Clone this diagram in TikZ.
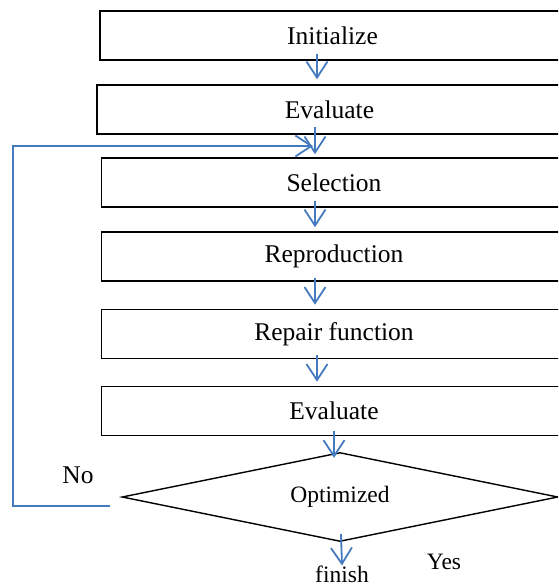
\documentclass[tikz,border=0pt]{standalone}
\usepackage{fontspec}
\setmainfont{Liberation Serif}
\usetikzlibrary{arrows.meta,shapes.geometric}
\definecolor{flowblue}{RGB}{70,122,190}
\begin{document}
\begin{tikzpicture}[x=1pt,y=-1pt,
  stepbox/.style={draw=black,line width=1.6pt,rectangle,minimum width=465pt,minimum height=49pt,inner sep=0pt,font=\fontsize{25.5}{30}\selectfont},
  decision/.style={draw=black,line width=1.4pt,diamond,aspect=4.9,minimum width=436pt,minimum height=89pt,inner sep=0pt,font=\fontsize{23.5}{28}\selectfont},
  lbl/.style={inner sep=0pt,font=\fontsize{23.5}{28}\selectfont},
  arr/.style={draw=flowblue,line width=1.8pt,-{Straight Barb[length=16pt,width=21pt,line width=1.8pt]}}]
\useasboundingbox (0,0) rectangle (558,584);
\clip (0,0) rectangle (558,584);
\node[stepbox] (b1) at (332.5,35.5) {Initialize};
\node[stepbox] (b2) at (329.5,109.5) {Evaluate};
\node[stepbox] (b3) at (334,182.5) {Selection};
\node[stepbox] (b4) at (334,256.5) {Reproduction};
\node[stepbox] (b5) at (334,334) {Repair function};
\node[stepbox] (b6) at (334,411) {Evaluate};
\node[decision] (opt) at (340,497) {Optimized};
\node[lbl] (fin) at (342,574) {finish};
\node[lbl,font=\fontsize{25.5}{30}\selectfont] (no) at (78,475) {No};
\node[lbl] (yes) at (444,562) {Yes};
\coordinate (fbtip) at (313,146);
\draw[arr] ([xshift=-15.5pt,yshift=7pt]b1.south) -- ([xshift=-12.5pt,yshift=5pt]b2.north);
\draw[arr] ([xshift=-14.5pt,yshift=8pt]b2.south) -- ([xshift=-19pt,yshift=3pt]b3.north);
\draw[arr] ([xshift=-19pt,yshift=7pt]b3.south) -- ([xshift=-19pt,yshift=4pt]b4.north);
\draw[arr] ([xshift=-19pt,yshift=4pt]b4.south) -- ([xshift=-19pt,yshift=4pt]b5.north);
\draw[arr] ([xshift=-17pt,yshift=4pt]b5.south) -- ([xshift=-17pt,yshift=4pt]b6.north);
\draw[arr] ([yshift=5pt]b6.south) -- ([xshift=-6pt,yshift=-6pt]opt.north);
\draw[arr] ([xshift=1pt,yshift=8pt]opt.south) -- (fin.north);
\draw[arr] ([xshift=-11pt,yshift=-9pt]opt.west) -- ++(-97,0) |- (fbtip);
\end{tikzpicture}
\end{document}
